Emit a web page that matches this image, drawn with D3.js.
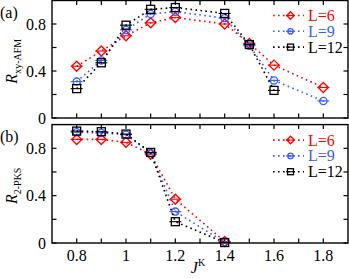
<!DOCTYPE html>
<html>
<head>
<meta charset="utf-8">
<script src="https://cdn.jsdelivr.net/npm/d3@7"></script>
<style>
  body { margin: 0; background: #fff; }
  svg { display: block; font-family: "Liberation Serif", "Times New Roman", serif; }
</style>
</head>
<body>
<svg id="chart" width="349" height="278"></svg>
<script>
// data
var seriesNames = ["L=6", "L=9", "L=12"];
var seriesColors = ["#ff0000", "#3a5cff", "#000000"];
var seriesShapes = ["diamond", "circle", "square"];

// panel (a): R_xy-AFM
var jA6 = [0.8, 0.9, 1.0, 1.1, 1.2, 1.4, 1.5, 1.6, 1.8];
var rA6 = [0.44, 0.57, 0.70, 0.81, 0.855, 0.80, 0.635, 0.45, 0.26];
var jA9 = [0.8, 0.9, 1.0, 1.1, 1.2, 1.4, 1.5, 1.6, 1.8];
var rA9 = [0.31, 0.49, 0.75, 0.885, 0.905, 0.85, 0.615, 0.32, 0.145];
var jA12 = [0.8, 0.9, 1.0, 1.1, 1.2, 1.4, 1.5, 1.6];
var rA12 = [0.25, 0.47, 0.79, 0.925, 0.94, 0.89, 0.625, 0.235];

// panel (b): R_2-PKS
var jB = [0.8, 0.9, 1.0, 1.1, 1.2, 1.4];
var rB6 = [0.875, 0.875, 0.85, 0.75, 0.37, 0.012];
var rB9 = [0.935, 0.93, 0.915, 0.76, 0.265, 0.006];
var rB12 = [0.945, 0.94, 0.92, 0.765, 0.18, 0.004];

var xTickLabels = [0.8, 1.0, 1.2, 1.4, 1.6, 1.8];
var xMinorTicks = [0.8, 0.9, 1.0, 1.1, 1.2, 1.3, 1.4, 1.5, 1.6, 1.7, 1.8];
var yTickLabels = [0, 0.4, 0.8];
var yMinorTicks = [0.2, 0.6];

var svg = d3.select("#chart");

var x = d3.scaleLinear().domain([0.7, 1.9]).range([52, 348]);

function drawPanel(opts) {
  var y = d3.scaleLinear().domain([0, 1]).range([opts.bottom, opts.top]);
  var g = svg.append("g");

  // inward ticks on all sides
  var tickLen = 4.5;
  xMinorTicks.forEach(function(t) {
    g.append("line").attr("x1", x(t)).attr("x2", x(t))
      .attr("y1", opts.bottom).attr("y2", opts.bottom - tickLen)
      .attr("stroke", "#000").attr("stroke-width", 1.2);
    g.append("line").attr("x1", x(t)).attr("x2", x(t))
      .attr("y1", opts.top).attr("y2", opts.top + tickLen)
      .attr("stroke", "#000").attr("stroke-width", 1.2);
  });
  yTickLabels.concat(yMinorTicks).forEach(function(t) {
    g.append("line").attr("x1", x.range()[0]).attr("x2", x.range()[0] + tickLen)
      .attr("y1", y(t)).attr("y2", y(t))
      .attr("stroke", "#000").attr("stroke-width", 1.2);
    g.append("line").attr("x1", x.range()[1]).attr("x2", x.range()[1] - tickLen)
      .attr("y1", y(t)).attr("y2", y(t))
      .attr("stroke", "#000").attr("stroke-width", 1.2);
  });

  // frame
  g.append("rect")
    .attr("x", x.range()[0]).attr("y", opts.top)
    .attr("width", x.range()[1] - x.range()[0])
    .attr("height", opts.bottom - opts.top)
    .attr("fill", "none").attr("stroke", "#000").attr("stroke-width", 1.4);

  // y tick labels
  g.selectAll(".ylab").data(yTickLabels).enter().append("text")
    .attr("x", 46).attr("y", function(d) { return y(d) + 5.5; })
    .attr("text-anchor", "end").attr("font-size", 16)
    .text(function(d) { return d3.format("~g")(d); });

  if (opts.xLabels) {
    g.selectAll(".xlab").data(xTickLabels).enter().append("text")
      .attr("x", function(d) { return x(d); }).attr("y", opts.bottom + 18)
      .attr("text-anchor", "middle").attr("font-size", 16)
      .text(function(d) { return d3.format("~g")(d); });
  }

  // panel letter
  g.append("text").attr("x", 0).attr("y", opts.top + 17)
    .attr("font-size", 16).text(opts.letter);

  // y axis label, rotated
  var yl = g.append("text")
    .attr("transform", "translate(17," + ((opts.top + opts.bottom) / 2 + 2) + ") rotate(-90)")
    .attr("text-anchor", "middle").attr("font-size", 16);
  yl.append("tspan").attr("font-style", "italic").text("R");
  yl.append("tspan").attr("font-size", 10).attr("dy", 4).text(opts.sub);

  // series
  var line = d3.line()
    .x(function(d) { return x(d[0]); })
    .y(function(d) { return y(d[1]); });

  opts.series.forEach(function(s, i) {
    var pts = d3.zip(s.j, s.r);
    g.append("path").datum(pts)
      .attr("d", line).attr("fill", "none")
      .attr("stroke", seriesColors[i]).attr("stroke-width", 1.6)
      .attr("stroke-dasharray", "1.6,3.4");
    pts.forEach(function(p) {
      drawMarker(g, x(p[0]), y(p[1]), i, 1);
    });
  });

  // legend
  seriesNames.forEach(function(name, i) {
    var ly = opts.top + opts.legendTop + i * 15.8;
    g.append("line").attr("x1", 273).attr("x2", 304).attr("y1", ly).attr("y2", ly)
      .attr("stroke", seriesColors[i]).attr("stroke-width", 1.6)
      .attr("stroke-dasharray", "1.6,3.4");
    drawMarker(g, 290.5, ly, i, 0.75);
    g.append("text").attr("x", 308).attr("y", ly + 5.5)
      .attr("font-size", 16).attr("fill", seriesColors[i]).text(name);
  });
}

function drawMarker(g, cx, cy, i, k) {
  var c = seriesColors[i];
  var d = 5 * k, r = 3.6 * k, h = 4 * k;
  g.append("line").attr("x1", cx - 6 * k).attr("x2", cx + 6 * k).attr("y1", cy).attr("y2", cy)
    .attr("stroke", c).attr("stroke-width", 1.1);
  if (seriesShapes[i] === "diamond") {
    g.append("path")
      .attr("d", "M" + cx + "," + (cy - d) + "L" + (cx + d) + "," + cy + "L" + cx + "," + (cy + d) + "L" + (cx - d) + "," + cy + "Z")
      .attr("fill", "none").attr("stroke", c).attr("stroke-width", 1.4);
  } else if (seriesShapes[i] === "circle") {
    g.append("circle").attr("cx", cx).attr("cy", cy).attr("r", r)
      .attr("fill", "none").attr("stroke", c).attr("stroke-width", 1.3);
    g.append("circle").attr("cx", cx).attr("cy", cy).attr("r", 1).attr("fill", c);
  } else {
    g.append("rect").attr("x", cx - h).attr("y", cy - h).attr("width", 2 * h).attr("height", 2 * h)
      .attr("fill", "none").attr("stroke", c).attr("stroke-width", 1.3);
  }
}

drawPanel({
  top: 0.5, bottom: 118, letter: "(a)", sub: "xy-AFM", xLabels: false, legendTop: 15,
  series: [{ j: jA6, r: rA6 }, { j: jA9, r: rA9 }, { j: jA12, r: rA12 }]
});

drawPanel({
  top: 124.6, bottom: 243, letter: "(b)", sub: "2-PKS", xLabels: true, legendTop: 15.5,
  series: [{ j: jB, r: rB6 }, { j: jB, r: rB9 }, { j: jB, r: rB12 }]
});

// x axis label J^K
var xl = svg.append("text").attr("x", 198).attr("y", 273)
  .attr("text-anchor", "middle").attr("font-size", 16);
xl.append("tspan").attr("font-style", "italic").text("J");
xl.append("tspan").attr("font-size", 10).attr("dy", -7).text("K");
</script>
</body>
</html>
